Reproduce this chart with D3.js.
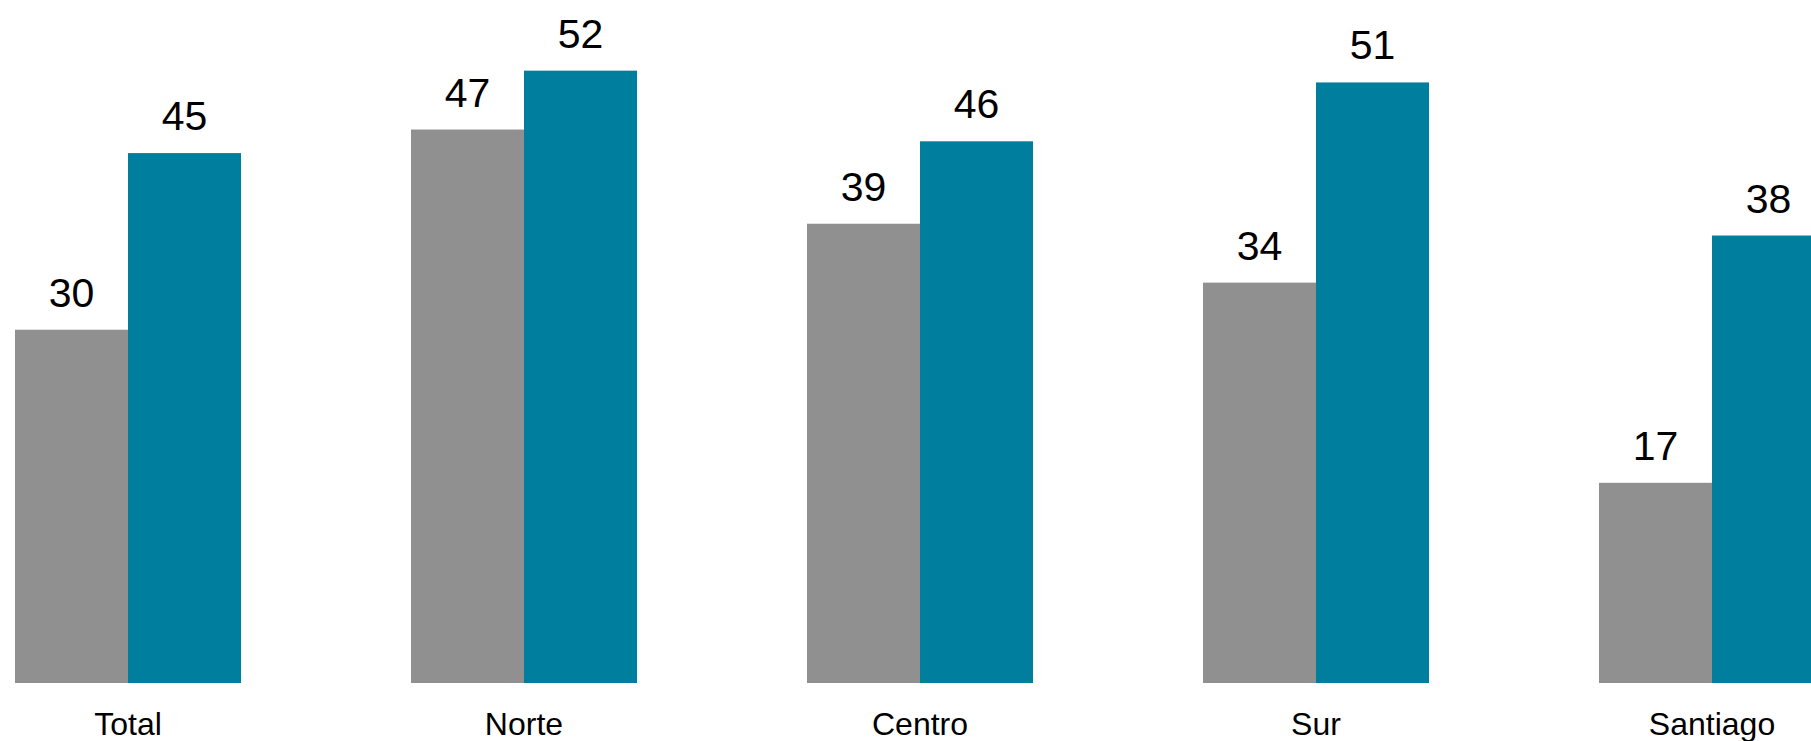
<!DOCTYPE html>
<html>
<head>
<meta charset="utf-8">
<script src="https://cdn.jsdelivr.net/npm/d3@7"></script>
<style>
  html, body { margin: 0; padding: 0; background: #ffffff; overflow: hidden; }
  svg { display: block; }
  text { font-family: "Liberation Sans", Arial, sans-serif; fill: #000; }
</style>
</head>
<body>
<svg id="chart" width="1811" height="741"></svg>
<script>
const categories = ["Total", "Norte", "Centro", "Sur", "Santiago"];
const seriesNames = ["A", "B"];
const seriesA = [30, 47, 39, 34, 17];
const seriesB = [45, 52, 46, 51, 38];
const colors = ["#909090", "#007e9d"];

const W = 1811, H = 741;
const baseY = 683;
const svg = d3.select("#chart");

const x = d3.scaleBand().domain(categories).range([15, 1825]).paddingInner(0.4293).paddingOuter(0);
const xs = d3.scaleBand().domain(seriesNames).range([0, x.bandwidth()]).padding(0);
const y = d3.scaleLinear().domain([0, 58]).range([baseY, 0]);

const data = categories.map((c, i) => ({ cat: c, vals: [seriesA[i], seriesB[i]] }));

const g = svg.selectAll("g.group").data(data).join("g")
  .attr("class", "group")
  .attr("transform", d => `translate(${x(d.cat)},0)`);

g.selectAll("rect").data(d => d.vals.map((v, j) => ({ v, s: seriesNames[j], j }))).join("rect")
  .attr("x", d => xs(d.s))
  .attr("width", xs.bandwidth())
  .attr("y", d => y(d.v))
  .attr("height", d => y(0) - y(d.v))
  .attr("fill", d => colors[d.j]);

g.selectAll("text.val").data(d => d.vals.map((v, j) => ({ v, s: seriesNames[j] }))).join("text")
  .attr("class", "val")
  .attr("x", d => xs(d.s) + xs.bandwidth() / 2)
  .attr("y", d => y(d.v) - 23)
  .attr("text-anchor", "middle")
  .attr("font-size", 41)
  .text(d => d.v);

const xAxis = d3.axisBottom(x).tickSize(0).tickPadding(0);
const ax = svg.append("g").attr("transform", `translate(0,${baseY})`).call(xAxis);
ax.select(".domain").remove();
ax.selectAll("text")
  .attr("y", 52)
  .attr("dy", 0)
  .attr("font-size", 32)
  .attr("fill", "#000")
  .style("font-family", '"Liberation Sans", Arial, sans-serif');
</script>
</body>
</html>
